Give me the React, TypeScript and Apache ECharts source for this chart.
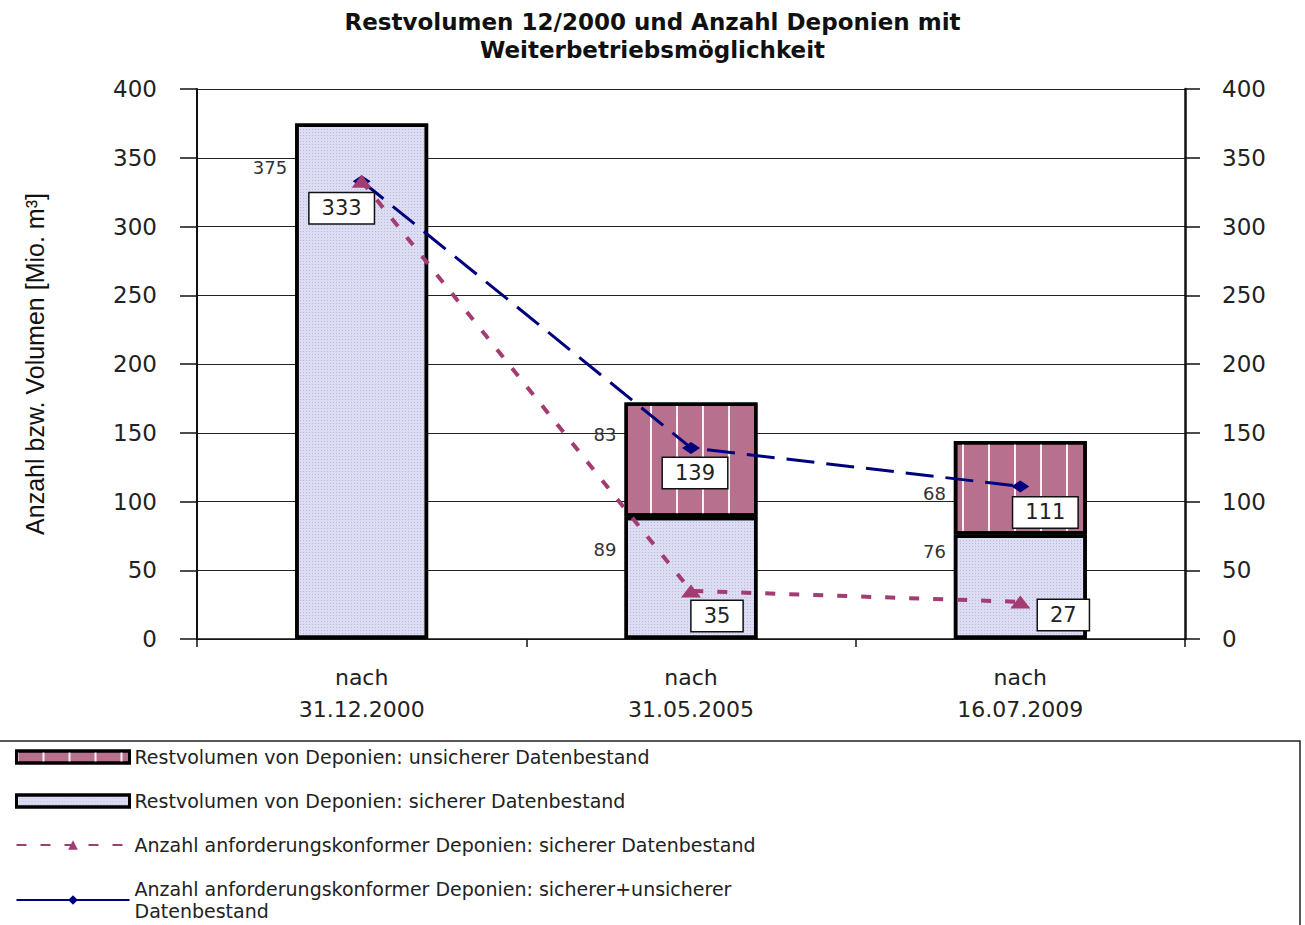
import React, { useEffect, useRef } from 'react';
import * as echarts from 'echarts';

// ---------- data ----------
const categories = ['nach\n31.12.2000', 'nach\n31.05.2005', 'nach\n16.07.2009'];
const sichererVolumen = [375, 89, 76];
const unsichererVolumen: (number | null)[] = [null, 83, 68];
const anzahlSicher = [333, 35, 27];
const anzahlGesamt = [333, 139, 111];
const yMin = 0;
const yMax = 400;
const yInterval = 50;

const NAME_UNSICHER = 'Restvolumen von Deponien: unsicherer Datenbestand';
const NAME_SICHER = 'Restvolumen von Deponien: sicherer Datenbestand';
const NAME_ANZ_SICHER = 'Anzahl anforderungskonformer Deponien: sicherer Datenbestand';
const NAME_ANZ_GESAMT = 'Anzahl anforderungskonformer Deponien: sicherer+unsicherer Datenbestand';
const TITLE = 'Restvolumen 12/2000 und Anzahl Deponien mit\nWeiterbetriebsmöglichkeit';
const Y_NAME = 'Anzahl bzw. Volumen [Mio. m³]';

// ---------- label placement (style) ----------
const sicherLabelDy = [44, 33, 17];
const unsicherLabelDy = [0, 32, 52];
const anzSicherLabelOffset = [[-20, 27], [26, 25], [43, 13]];
const anzGesamtLabelOffset = [[0, 0], [4, 25], [25, 26]];

const FONT = '"DejaVu Sans", "Liberation Sans", sans-serif';
const MAUVE = '#a23c72';
const NAVY = '#00007d';

function buildOption() {
  const boxLabel = {
    show: true,
    position: 'inside',
    fontFamily: FONT,
    fontSize: 21,
    color: '#222',
    backgroundColor: '#fff',
    borderColor: '#111',
    borderWidth: 1.5,
    padding: [5, 12, 4, 12],
  };
  return {
    animation: false,
    backgroundColor: '#fff',
    title: {
      text: TITLE,
      left: 'center',
      top: 3,
      textStyle: { fontFamily: FONT, fontSize: 23, fontWeight: 'bold', color: '#111', lineHeight: 28 },
    },
    grid: { left: 197, right: 120, top: 89, bottom: 286, containLabel: false, outerBoundsMode: 'none' },
    legend: {
      orient: 'vertical',
      left: 15,
      top: 746,
      height: 300,
      itemWidth: 113,
      itemHeight: 12,
      itemGap: 22,
      padding: 0,
      textStyle: { fontFamily: FONT, fontSize: 19, color: '#222', lineHeight: 22 },
      formatter: (n: string) =>
        n === NAME_ANZ_GESAMT ? 'Anzahl anforderungskonformer Deponien: sicherer+unsicherer\nDatenbestand' : n,
      data: [
        { name: NAME_UNSICHER, icon: 'rect', itemStyle: { borderColor: '#000', borderWidth: 3 } },
        { name: NAME_SICHER, icon: 'rect', itemStyle: { borderColor: '#000', borderWidth: 3 } },
        { name: NAME_ANZ_SICHER },
        { name: NAME_ANZ_GESAMT, lineStyle: { type: 'solid' } },
      ],
    },
    graphic: [
      {
        type: 'rect',
        shape: { x: -2, y: 741, width: 1302, height: 220 },
        style: { fill: 'none', stroke: '#222', lineWidth: 1.5 },
        silent: true,
      },
    ],
    xAxis: {
      type: 'category',
      data: categories,
      axisLine: { lineStyle: { color: '#111', width: 1.5 } },
      axisTick: { show: true, length: 8, lineStyle: { color: '#111', width: 1.5 } },
      axisLabel: { fontFamily: FONT, fontSize: 22, lineHeight: 32, color: '#222', margin: 22 },
      splitLine: { show: false },
    },
    yAxis: [
      {
        type: 'value',
        position: 'left',
        min: yMin,
        max: yMax,
        interval: yInterval,
        name: Y_NAME,
        nameLocation: 'middle',
        nameRotate: 90,
        nameGap: 150,
        nameTextStyle: { fontFamily: '"Liberation Sans", Arial, sans-serif', fontSize: 25, color: '#111' },
        axisLine: { show: true, lineStyle: { color: '#111', width: 2 } },
        axisTick: { show: true, length: 17, lineStyle: { color: '#111', width: 1.5 } },
        axisLabel: { fontFamily: FONT, fontSize: 23, color: '#222', margin: 40 },
        splitLine: { show: true, lineStyle: { color: '#222', width: 1.2 } },
      },
      {
        type: 'value',
        position: 'right',
        min: yMin,
        max: yMax,
        interval: yInterval,
        axisLine: { show: true, lineStyle: { color: '#111', width: 2.5 } },
        axisTick: { show: true, length: 15, lineStyle: { color: '#111', width: 1.5 } },
        axisLabel: { fontFamily: FONT, fontSize: 23, color: '#222', margin: 37 },
        splitLine: { show: false },
      },
    ],
    series: [
      {
        name: NAME_SICHER,
        type: 'bar',
        stack: 'vol',
        barWidth: 133,
        data: sichererVolumen.map((v, i) => ({ value: v, label: { position: [-8, sicherLabelDy[i]] } })),
        itemStyle: {
          color: '#dcdcf3',
          borderColor: '#000',
          borderWidth: 3.5,
          decal: {
            symbol: 'rect',
            symbolSize: 1,
            dashArrayX: [1, 2],
            dashArrayY: [1, 2],
            color: 'rgba(120,120,190,0.35)',
          },
        },
        label: { show: true, align: 'right', verticalAlign: 'middle', fontFamily: FONT, fontSize: 18, color: '#333' },
      },
      {
        name: NAME_UNSICHER,
        type: 'bar',
        stack: 'vol',
        barWidth: 133,
        data: unsichererVolumen.map((v, i) =>
          v == null ? '-' : { value: v, label: { position: [-8, unsicherLabelDy[i]] } }
        ),
        itemStyle: {
          color: '#b8708f',
          borderColor: '#000',
          borderWidth: 3.5,
          decal: {
            symbol: 'rect',
            symbolSize: 1,
            dashArrayX: [2, 24],
            dashArrayY: [200, 0],
            color: 'rgba(255,255,255,0.9)',
          },
        },
        label: { show: true, align: 'right', verticalAlign: 'middle', fontFamily: FONT, fontSize: 18, color: '#333' },
      },
      {
        name: NAME_ANZ_SICHER,
        type: 'line',
        z: 4,
        data: anzahlSicher.map((v, i) => ({ value: v, label: { offset: anzSicherLabelOffset[i] } })),
        color: MAUVE,
        symbol: 'triangle',
        symbolSize: [20, 13],
        itemStyle: { color: MAUVE },
        lineStyle: { color: MAUVE, width: 4, type: [10, 14] },
        label: boxLabel,
      },
      {
        name: NAME_ANZ_GESAMT,
        type: 'line',
        z: 3,
        data: anzahlGesamt.map((v, i) => ({
          value: v,
          label: i === 0 ? { show: false } : { offset: anzGesamtLabelOffset[i] },
        })),
        color: NAVY,
        symbol: 'diamond',
        symbolSize: [18, 12],
        itemStyle: { color: NAVY },
        lineStyle: { color: NAVY, width: 3, type: [28, 12] },
        label: boxLabel,
      },
    ],
  };
}

export default function App() {
  const ref = useRef<HTMLDivElement>(null);
  useEffect(() => {
    if (!ref.current) return;
    const chart = echarts.init(ref.current, null, { renderer: 'svg' });
    chart.setOption(buildOption() as any);
    return () => chart.dispose();
  }, []);
  return (
    <div
      ref={ref}
      style={{ position: 'absolute', left: 0, top: 0, width: 1305, height: 925, background: '#fff' }}
    />
  );
}
